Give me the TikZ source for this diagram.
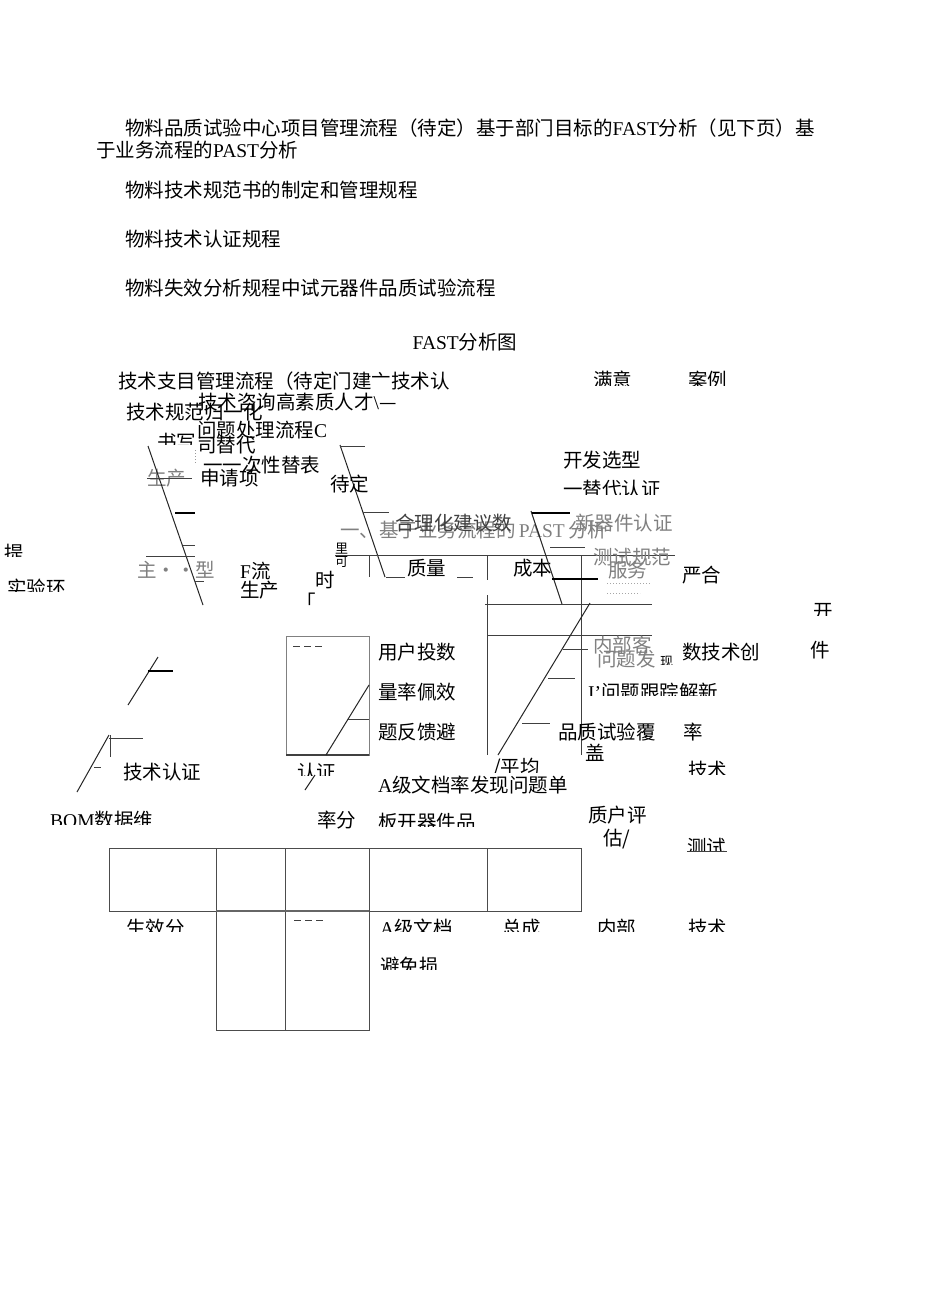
\documentclass[tikz,border=0pt]{standalone}
\usepackage{fontspec}
\setmainfont{Noto Sans CJK SC}
\newfontfamily\lat{Liberation Serif}
\def\FS{\fontsize{19.5}{21}\selectfont}
\def\SM{\fontsize{13}{14}\selectfont}
% text of which only the upper part shows
\def\cuttext#1(#2,#3)#4#5{%
  \begin{scope}
    \clip (#2-4,#3-14) rectangle (#2+230,#3+#4);
    \node (#1) at (#2,#3) {#5};
  \end{scope}}

\begin{document}
\begin{tikzpicture}[x=1pt,y=-1pt,
    every node/.style={inner sep=0pt,anchor=west,font=\FS},
    faint/.style={text=black!50},
    bone/.style={line width=1pt,black!85},
    thin/.style={line width=0.7pt,black!75}]
\useasboundingbox[fill=white] (0,0) rectangle (950,1307);

\node (p1) at (125,128) {物料品质试验中心项目管理流程（待定）基于部门目标的{\lat FAST}分析（见下页）基};
\node (p2) at (96,150) {于业务流程的{\lat PAST}分析};
\node (p3) at (125,190) {物料技术规范书的制定和管理规程};
\node (p4) at (125,239) {物料技术认证规程};
\node (p5) at (125,288) {物料失效分析规程中试元器件品质试验流程};
\node[anchor=center] (title) at (465,342) {{\lat FAST}分析图};

\node (zhiliu) at (118,381) {技术支目管理流程（待定门建亠技术认};
\cuttext{manyi}(593,380){5}{满意}
\cuttext{anli}(688,380){5}{案例}
\node (guiyi) at (126,412) {技术规范归一化};
\node (zixun) at (198,402) {技术咨询高素质人才{\lat\textbackslash}—};
\node (wenti) at (197,430) {问题处理流程{\lat C}};
\cuttext{shuxie}(157,442){2}{书写}
\node (tidai) at (197,445) {司替代};
\draw[black!40,dotted,line width=1pt] (195,450) -- (195,463);
\node (yici) at (203,465) {一一次性替表};
\node[faint] (shengchan) at (147,478) {生产};
\node (shenqing) at (200,478) {申请项};

% left bone
\draw[bone] (148,446) -- (203,605);
\draw[thin] (147,478) -- (192,478);
\draw[line width=2.2pt] (175,513) -- (195,513);
\draw[thin] (183,545) -- (195,545);
\draw[thin] (146,556) -- (195,556);
\draw[thin] (195,581) -- (204,581);
\node[faint] (zhuxing) at (137,570) {主··型};
\cuttext{ti}(4,553){3}{提}
\cuttext{shiyan}(7,588){3}{实验环}
\node (fliu) at (240,571) {{\lat F}流};
\node (shengchan2) at (240,590) {生产};
\node (shi) at (315,580) {时};
\node (kuo) at (296,601) {「};

% middle bone
\draw[bone] (340,445) -- (385,577);
\draw[thin] (340,446) -- (365,446);
\draw[thin] (363,512) -- (389,512);
\draw[thin] (386,577) -- (405,577);
\node (daiding) at (330,484) {待定};
\node[faint] (past) at (340,530) {一、基于业务流程的\,{\lat PAST}\,分析};
\node[text=black!75] (heli) at (395,523) {合理化建议数};
\node[font=\SM] (li) at (335,549) {里};
\node[font=\SM] (ke) at (335,562) {可};
\draw[thin] (335,555) -- (675,555);
\draw[thin] (369,555) -- (369,577);
\draw[thin] (487,555) -- (487,580);
\draw[thin] (581,555) -- (581,755);
\node (zhiliang) at (407,568) {质量};
\draw[thin] (457,577) -- (473,577);
\node (chengben) at (513,568) {成本};

% right bone
\node (kaifa) at (563,460) {开发选型};
\cuttext{tidairz}(563,489){5}{一替代认证}
\draw[bone] (531,511) -- (562,604);
\draw[line width=1.5pt] (532,513) -- (570,513);
\draw[thin] (550,547) -- (585,547);
\draw[line width=2.5pt] (552,579) -- (598,579);
\node[faint] (xinqijian) at (575,523) {新器件认证};
\node[faint] (ceshi) at (593,557) {测试规范};
\node[faint] (fuwu) at (608,570) {服务};
\draw[black!35,dotted,line width=1pt] (607,583) -- (650,583);
\draw[black!35,dotted,line width=1pt] (607,593) -- (640,593);
\node (yanhe) at (682,575) {严合};
\cuttext{kai}(813,612){3}{开}
\node (jian) at (810,650) {件};

% bracket
\draw[thin] (485,604) -- (652,604);
\draw[thin] (487,635) -- (652,635);
\draw[thin] (487,595) -- (487,755);
\draw[bone] (590,603) -- (498,755);
\draw[thin] (563,649) -- (588,649);
\draw[thin] (548,678) -- (575,678);
\draw[thin] (522,723) -- (550,723);
\node[faint] (neibuke) at (593,645) {内部客};
\node[faint] (wentifa) at (597,659) {问题发};
\cuttext{xian}(660,662){2}{\SM 现}
\node (shuji) at (682,652) {数技术创};
\cuttext{genzong}(588,692){3}{{\lat I’}问题跟踪解新};
\node (fugai) at (558,732) {品质试验覆};
\node (gai) at (585,753) {盖};
\node (lv) at (683,732) {率};
\cuttext{jishu1}(688,770){4}{技术}
\cuttext{pingjun}(493,768){4}{/平均}
\node (ajwd) at (378,785) {{\lat A}级文档率发现问题单};
\node (huping) at (588,815) {质户评};
\node (gu) at (603,839) {估/};
\cuttext{ceshi2}(687,847){4}{测试}
\draw[thin] (687,851) -- (727,851);

% left lower bones
\draw[bone] (128,705) -- (158,657);
\draw[line width=1.8pt] (148,671) -- (173,671);
\draw[bone] (77,792) -- (109,735);
\draw[thin] (109,738) -- (143,738);
\draw[thin] (110,735) -- (110,757);
\draw[thin] (94,767) -- (101,767);
\node (jishurz) at (123,772) {技术认证};
\cuttext{bom}(50,820){4}{{\lat BOM}数据维}

% box
\draw[black!50] (286,636) rectangle (369,755);
\draw[line width=1.3pt,black!75] (286,755) -- (369,755);
\draw[thin,dash pattern=on 7pt off 4pt] (293,646) -- (323,646);
\draw[bone] (326,755) -- (369,685);
\draw[thin] (348,719) -- (369,719);
\node (yonghu) at (378,652) {用户投数};
\node (liang) at (378,692) {量率佩效};
\node (fankui) at (378,732) {题反馈避};
\cuttext{renzheng}(297,772){3}{认证}
\draw[bone] (305,790) -- (315,775);
\node (lvfen) at (317,820) {率分};
\cuttext{bankai}(378,822){4}{板开器件品}

% table
\draw[black!70] (109,848) rectangle (581,911);
\foreach \x in {216,285,369,487} \draw[black!70] (\x,848) -- (\x,911);
\draw[black!70] (216,911) rectangle (369,1030);
\draw[black!70] (285,911) -- (285,1030);
\draw[line width=1.3pt,black!60] (216,911) -- (369,911);
\cuttext{shengxiao}(126,928){3}{生效分}
\draw[thin,dash pattern=on 7pt off 4pt] (294,920) -- (324,920);
\cuttext{ajw2}(380,928){3}{{\lat A}级文档}
\cuttext{zongcheng}(502,928){3}{总成}
\cuttext{neibu}(597,928){3}{内部}
\cuttext{jishu2}(688,928){3}{技术}
\cuttext{bimian}(380,966){3}{避免损}
\end{tikzpicture}
\end{document}
